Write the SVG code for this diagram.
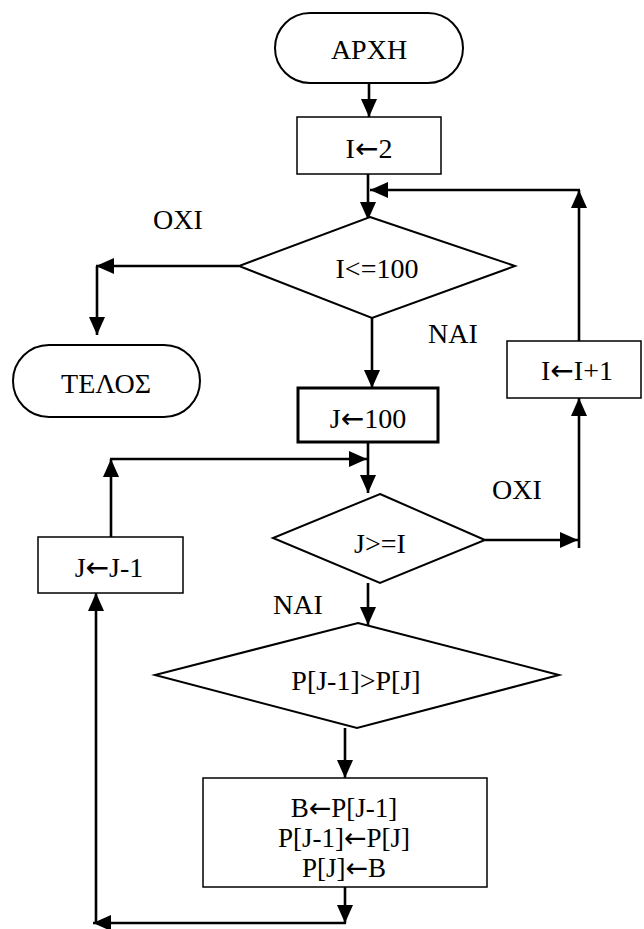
<svg xmlns="http://www.w3.org/2000/svg" width="644" height="929" viewBox="0 0 644 929">
<defs>
<style>
.t{font-family:"Liberation Serif","Times New Roman",serif;font-size:28px;fill:#000;text-anchor:middle}
.s{font-size:27px}
.l{font-family:"Liberation Serif","Times New Roman",serif;font-size:28px;fill:#000}
.a{font-family:"DejaVu Sans",sans-serif}
.box{fill:#fff;stroke:#000;stroke-width:1.5}
.bold{fill:#fff;stroke:#000;stroke-width:3}
.dia{fill:#fff;stroke:#000;stroke-width:2}
.term{fill:#fff;stroke:#000;stroke-width:2}
.c{fill:none;stroke:#000;stroke-width:2.6;marker-end:url(#ah)}
</style>
<marker id="ah" markerUnits="userSpaceOnUse" markerWidth="18" markerHeight="16" refX="18" refY="8" orient="auto">
<path d="M0,0 L18,8 L0,16 z" fill="#000"/>
</marker>
</defs>
<rect width="644" height="929" fill="#fff"/>
<g id="connectors">
<path class="c" d="M369,83 V117"/>
<path class="c" d="M368,174 V220"/>
<path class="c" d="M239,266 H96"/>
<path class="c" d="M97,266 V335"/>
<path class="c" d="M372,318 V388"/>
<path class="c" d="M368,442 V493"/>
<path class="c" d="M111,537 V459"/>
<path class="c" d="M110,459 H367"/>
<path class="c" d="M485,540 H578"/>
<path class="c" d="M579,548 V398"/>
<path class="c" d="M579,341 V190"/>
<path class="c" d="M580,190 H370"/>
<path class="c" d="M368,583 V625"/>
<path class="c" d="M345,728 V778"/>
<path class="c" d="M345,887 V923"/>
<path class="c" d="M346,923 H93"/>
<path class="c" d="M96,924 V593"/>
</g>
<g id="start">
<rect class="term" x="275" y="13" width="188" height="70" rx="35" ry="35"/>
<text class="t" x="369" y="59">ΑΡΧΗ</text>
</g>
<g id="init-i">
<rect class="box" x="297" y="117" width="144" height="57"/>
<text class="t" x="369" y="158">I<tspan class="a">←</tspan>2</text>
</g>
<g id="cond-i">
<polygon class="dia" points="370,217 515,266 372,318 239,266"/>
<text class="t" x="377" y="278">I&lt;=100</text>
</g>
<g id="end">
<rect class="term" x="13" y="345" width="187" height="72" rx="36" ry="36"/>
<text class="t" x="106" y="393">ΤΕΛΟΣ</text>
</g>
<g id="init-j">
<rect class="bold" x="298" y="388" width="140" height="54"/>
<text class="t" x="368" y="428">J<tspan class="a">←</tspan>100</text>
</g>
<g id="inc-i">
<rect class="box" x="507" y="341" width="134" height="57"/>
<text class="t" x="577" y="380">I<tspan class="a">←</tspan>I+1</text>
</g>
<g id="cond-j">
<polygon class="dia" points="380,494 485,540 380,583 273,538"/>
<text class="t" x="380" y="553">J&gt;=I</text>
</g>
<g id="dec-j">
<rect class="box" x="38" y="537" width="145" height="56"/>
<text class="t" x="109" y="577">J<tspan class="a">←</tspan>J-1</text>
</g>
<g id="cond-p">
<polygon class="dia" points="358,623 559,675 357,728 155,675"/>
<text class="t" x="356" y="690">P[J-1]&gt;P[J]</text>
</g>
<g id="swap">
<rect class="box" x="203" y="778" width="284" height="109"/>
<text class="t s" x="344" y="817">B<tspan class="a">←</tspan>P[J-1]</text>
<text class="t s" x="344" y="847">P[J-1]<tspan class="a">←</tspan>P[J]</text>
<text class="t s" x="344" y="877">P[J]<tspan class="a">←</tspan>B</text>
</g>
<g id="labels">
<text class="l" x="153" y="229">ΟΧΙ</text>
<text class="l" x="428" y="343">ΝΑΙ</text>
<text class="l" x="492" y="499">ΟΧΙ</text>
<text class="l" x="273" y="614">ΝΑΙ</text>
</g>
</svg>
